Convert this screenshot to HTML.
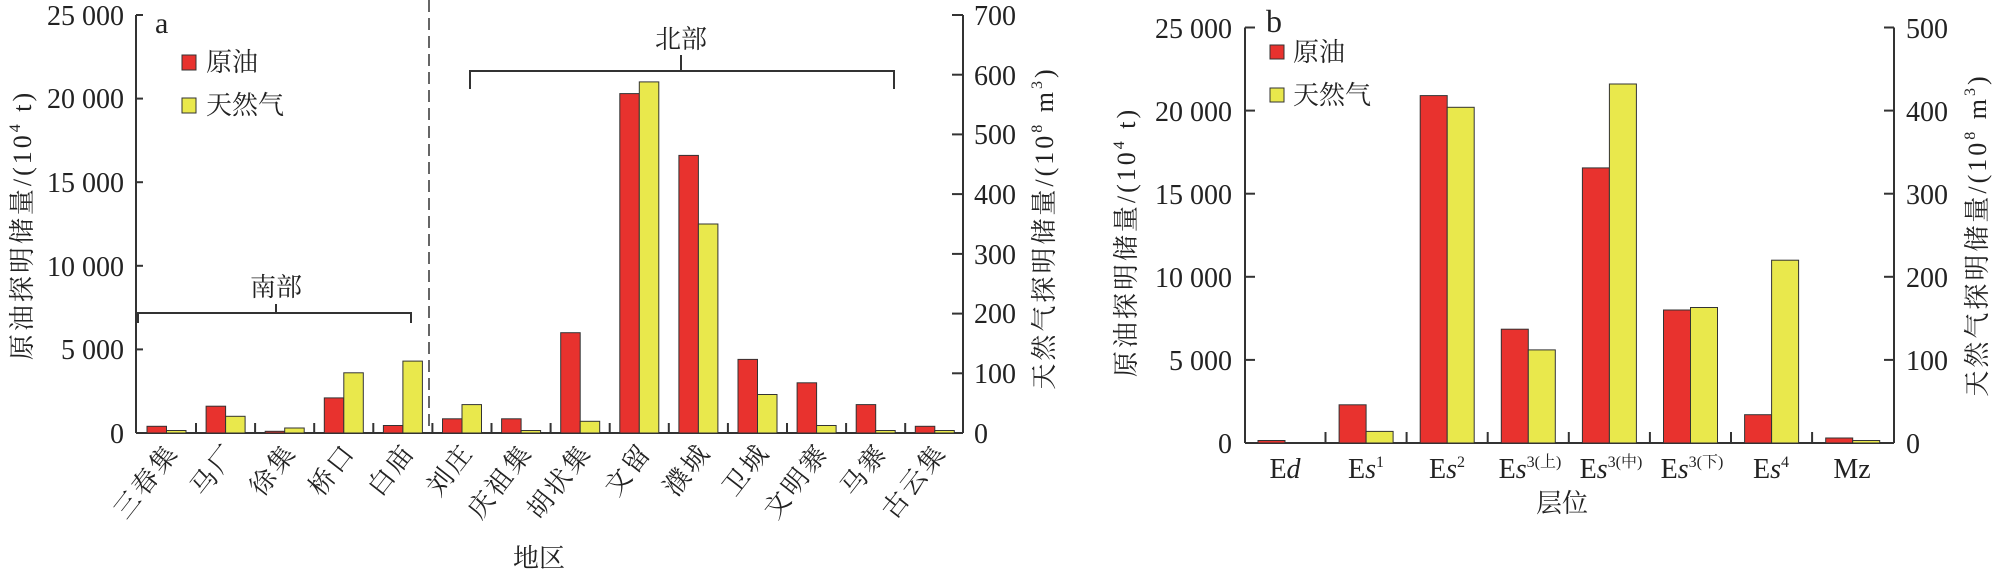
<!DOCTYPE html>
<html><head><meta charset="utf-8"><style>
html,body{margin:0;padding:0;background:#fff;}
svg{display:block;}
text{font-family:"Liberation Serif","Noto Serif CJK SC","Noto Sans CJK SC",serif;fill:#222;}
.r{fill:#e8322e;stroke:#333;stroke-width:1;}
.g{fill:#e9e84c;stroke:#333;stroke-width:1;}
.ax{stroke:#333;stroke-width:2;fill:none;}
.t{font-size:28px;}
.c{font-size:26px;letter-spacing:3px;}
.yl{font-size:26px;letter-spacing:3px;}
</style></head><body>
<svg width="1999" height="575" xmlns="http://www.w3.org/2000/svg">
<!-- Chart a -->
<g>
<line class="ax" x1="136" y1="15" x2="136" y2="433"/>
<line class="ax" x1="136" y1="433" x2="963" y2="433"/>
<line class="ax" x1="963" y1="15" x2="963" y2="433"/>
<g stroke="#333" stroke-width="2">
<line x1="136" y1="15" x2="143" y2="15"/><line x1="136" y1="98.6" x2="143" y2="98.6"/><line x1="136" y1="182.2" x2="143" y2="182.2"/><line x1="136" y1="265.8" x2="143" y2="265.8"/><line x1="136" y1="349.4" x2="143" y2="349.4"/>
<line x1="952" y1="15" x2="963" y2="15"/><line x1="952" y1="74.7" x2="963" y2="74.7"/><line x1="952" y1="134.4" x2="963" y2="134.4"/><line x1="952" y1="194.1" x2="963" y2="194.1"/><line x1="952" y1="253.9" x2="963" y2="253.9"/><line x1="952" y1="313.6" x2="963" y2="313.6"/><line x1="952" y1="373.3" x2="963" y2="373.3"/>
<line x1="196" y1="423" x2="196" y2="433"/><line x1="255.1" y1="423" x2="255.1" y2="433"/><line x1="314.2" y1="423" x2="314.2" y2="433"/><line x1="373.3" y1="423" x2="373.3" y2="433"/><line x1="432.4" y1="423" x2="432.4" y2="433"/><line x1="491.5" y1="423" x2="491.5" y2="433"/><line x1="550.6" y1="423" x2="550.6" y2="433"/><line x1="609.7" y1="423" x2="609.7" y2="433"/><line x1="668.8" y1="423" x2="668.8" y2="433"/><line x1="727.9" y1="423" x2="727.9" y2="433"/><line x1="787" y1="423" x2="787" y2="433"/><line x1="846.1" y1="423" x2="846.1" y2="433"/><line x1="905.2" y1="423" x2="905.2" y2="433"/>
</g>
<g class="t" text-anchor="end">
<text x="124" y="25">25 000</text><text x="124" y="108">20 000</text><text x="124" y="192">15 000</text><text x="124" y="276">10 000</text><text x="124" y="359">5 000</text><text x="124" y="443">0</text>
</g>
<g class="t" text-anchor="start">
<text x="974" y="25">700</text><text x="974" y="85">600</text><text x="974" y="144">500</text><text x="974" y="204">400</text><text x="974" y="264">300</text><text x="974" y="323">200</text><text x="974" y="383">100</text><text x="974" y="443">0</text>
</g>
<text class="yl" x="25" y="225" text-anchor="middle" transform="rotate(-90 25 225)" dominant-baseline="middle">原油探明储量/(10<tspan font-size="16" dy="-9">4</tspan><tspan dy="9"> t)</tspan></text>
<text class="yl" x="1047" y="228" text-anchor="middle" transform="rotate(-90 1047 228)" dominant-baseline="middle">天然气探明储量/(10<tspan font-size="16" dy="-9">8</tspan><tspan dy="9"> m</tspan><tspan font-size="16" dy="-9">3</tspan><tspan dy="9">)</tspan></text>
<line x1="429" y1="0" x2="429" y2="433" stroke="#333" stroke-width="1.5" stroke-dasharray="12,6"/>
<path d="M138 323 L138 313 L276 313 L276 304 M276 313 L411 313 L411 323" fill="none" stroke="#333" stroke-width="2"/>
<text x="276" y="296" font-size="26" text-anchor="middle">南部</text>
<path d="M470 89 L470 71 L681 71 L681 55 M681 71 L894 71 L894 89" fill="none" stroke="#333" stroke-width="2"/>
<text x="681" y="48" font-size="26" text-anchor="middle">北部</text>
<text x="155" y="33" font-size="30">a</text>
<rect class="r" x="182" y="55" width="14" height="15"/><text x="206" y="71" font-size="26">原油</text>
<rect class="g" x="182" y="98" width="14" height="15"/><text x="206" y="114" font-size="26">天然气</text>
<!-- bars -->
<rect class="r" x="147" y="426.3" width="19.5" height="6.7"/><rect class="g" x="166.5" y="430.5" width="19.5" height="2.5"/>
<rect class="r" x="206.1" y="406.2" width="19.5" height="26.8"/><rect class="g" x="225.6" y="416.3" width="19.5" height="16.7"/>
<rect class="r" x="265.2" y="431.3" width="19.5" height="1.7"/><rect class="g" x="284.7" y="428" width="19.5" height="5"/>
<rect class="r" x="324.3" y="397.9" width="19.5" height="35.1"/><rect class="g" x="343.8" y="372.8" width="19.5" height="60.2"/>
<rect class="r" x="383.4" y="425.5" width="19.5" height="7.5"/><rect class="g" x="402.9" y="361.1" width="19.5" height="71.9"/>
<rect class="r" x="442.5" y="418.8" width="19.5" height="14.2"/><rect class="g" x="462" y="404.6" width="19.5" height="28.4"/>
<rect class="r" x="501.6" y="418.8" width="19.5" height="14.2"/><rect class="g" x="521.1" y="430.5" width="19.5" height="2.5"/>
<rect class="r" x="560.7" y="332.7" width="19.5" height="100.3"/><rect class="g" x="580.2" y="421.3" width="19.5" height="11.7"/>
<rect class="r" x="619.8" y="93.6" width="19.5" height="339.4"/><rect class="g" x="639.3" y="81.9" width="19.5" height="351.1"/>
<rect class="r" x="678.9" y="155.4" width="19.5" height="277.6"/><rect class="g" x="698.4" y="224" width="19.5" height="209"/>
<rect class="r" x="738" y="359.4" width="19.5" height="73.6"/><rect class="g" x="757.5" y="394.5" width="19.5" height="38.5"/>
<rect class="r" x="797.1" y="382.8" width="19.5" height="50.2"/><rect class="g" x="816.6" y="425.5" width="19.5" height="7.5"/>
<rect class="r" x="856.2" y="404.6" width="19.5" height="28.4"/><rect class="g" x="875.7" y="430.5" width="19.5" height="2.5"/>
<rect class="r" x="915.3" y="426.3" width="19.5" height="6.7"/><rect class="g" x="934.8" y="430.5" width="19.5" height="2.5"/>
<!-- x labels -->
<g class="c" text-anchor="end">
<text transform="translate(180,452) rotate(-52)">三春集</text>
<text transform="translate(239,452) rotate(-52)">马厂</text>
<text transform="translate(298,452) rotate(-52)">徐集</text>
<text transform="translate(357,452) rotate(-52)">桥口</text>
<text transform="translate(416,452) rotate(-52)">白庙</text>
<text transform="translate(475,452) rotate(-52)">刘庄</text>
<text transform="translate(534,452) rotate(-52)">庆祖集</text>
<text transform="translate(593,452) rotate(-52)">胡状集</text>
<text transform="translate(653,452) rotate(-52)">文留</text>
<text transform="translate(712,452) rotate(-52)">濮城</text>
<text transform="translate(771,452) rotate(-52)">卫城</text>
<text transform="translate(830,452) rotate(-52)">文明寨</text>
<text transform="translate(889,452) rotate(-52)">马寨</text>
<text transform="translate(948,452) rotate(-52)">古云集</text>
</g>
<text x="539" y="567" font-size="26" text-anchor="middle">地区</text>
</g>
<!-- Chart b -->
<g>
<line class="ax" x1="1245" y1="27.5" x2="1245" y2="443"/>
<line class="ax" x1="1245" y1="443" x2="1894" y2="443"/>
<line class="ax" x1="1894" y1="27.5" x2="1894" y2="443"/>
<g stroke="#333" stroke-width="2">
<line x1="1245" y1="27.5" x2="1255" y2="27.5"/><line x1="1245" y1="110.6" x2="1255" y2="110.6"/><line x1="1245" y1="193.7" x2="1255" y2="193.7"/><line x1="1245" y1="276.8" x2="1255" y2="276.8"/><line x1="1245" y1="359.9" x2="1255" y2="359.9"/>
<line x1="1884" y1="27.5" x2="1894" y2="27.5"/><line x1="1884" y1="110.6" x2="1894" y2="110.6"/><line x1="1884" y1="193.7" x2="1894" y2="193.7"/><line x1="1884" y1="276.8" x2="1894" y2="276.8"/><line x1="1884" y1="359.9" x2="1894" y2="359.9"/>
<line x1="1325.5" y1="432" x2="1325.5" y2="443"/><line x1="1406.6" y1="432" x2="1406.6" y2="443"/><line x1="1487.7" y1="432" x2="1487.7" y2="443"/><line x1="1568.8" y1="432" x2="1568.8" y2="443"/><line x1="1649.9" y1="432" x2="1649.9" y2="443"/><line x1="1731" y1="432" x2="1731" y2="443"/><line x1="1812.1" y1="432" x2="1812.1" y2="443"/>
</g>
<g class="t" text-anchor="end">
<text x="1232" y="38">25 000</text><text x="1232" y="121">20 000</text><text x="1232" y="204">15 000</text><text x="1232" y="287">10 000</text><text x="1232" y="370">5 000</text><text x="1232" y="453">0</text>
</g>
<g class="t" text-anchor="start">
<text x="1906" y="38">500</text><text x="1906" y="121">400</text><text x="1906" y="204">300</text><text x="1906" y="287">200</text><text x="1906" y="370">100</text><text x="1906" y="453">0</text>
</g>
<text class="yl" x="1129" y="242" text-anchor="middle" transform="rotate(-90 1129 242)" dominant-baseline="middle">原油探明储量/(10<tspan font-size="16" dy="-9">4</tspan><tspan dy="9"> t)</tspan></text>
<text class="yl" x="1980" y="235" text-anchor="middle" transform="rotate(-90 1980 235)" dominant-baseline="middle">天然气探明储量/(10<tspan font-size="16" dy="-9">8</tspan><tspan dy="9"> m</tspan><tspan font-size="16" dy="-9">3</tspan><tspan dy="9">)</tspan></text>
<text x="1266" y="32" font-size="32">b</text>
<rect class="r" x="1270" y="45" width="14" height="14"/><text x="1293" y="61" font-size="26">原油</text>
<rect class="g" x="1270" y="88" width="14" height="14"/><text x="1293" y="104" font-size="26">天然气</text>
<rect class="r" x="1258" y="440.5" width="27" height="2.5"/>
<rect class="r" x="1339.1" y="404.8" width="27" height="38.2"/><rect class="g" x="1366.1" y="431.4" width="27" height="11.6"/>
<rect class="r" x="1420.2" y="95.6" width="27" height="347.4"/><rect class="g" x="1447.2" y="107.3" width="27" height="335.7"/>
<rect class="r" x="1501.3" y="329.2" width="27" height="113.8"/><rect class="g" x="1528.3" y="349.9" width="27" height="93.1"/>
<rect class="r" x="1582.4" y="167.9" width="27" height="275.1"/><rect class="g" x="1609.4" y="84" width="27" height="359"/>
<rect class="r" x="1663.5" y="310" width="27" height="133"/><rect class="g" x="1690.5" y="307.5" width="27" height="135.5"/>
<rect class="r" x="1744.6" y="414.7" width="27" height="28.3"/><rect class="g" x="1771.6" y="260.2" width="27" height="182.8"/>
<rect class="r" x="1825.7" y="438" width="27" height="5"/><rect class="g" x="1852.7" y="440.5" width="27" height="2.5"/>
<g font-size="28" text-anchor="middle">
<text x="1285" y="478">E<tspan font-style="italic">d</tspan></text>
<text x="1366" y="478">E<tspan font-style="italic">s</tspan><tspan font-size="16" dy="-11">1</tspan></text>
<text x="1447" y="478">E<tspan font-style="italic">s</tspan><tspan font-size="16" dy="-11">2</tspan></text>
<text x="1530" y="478">E<tspan font-style="italic">s</tspan><tspan font-size="16" dy="-11">3(上)</tspan></text>
<text x="1611" y="478">E<tspan font-style="italic">s</tspan><tspan font-size="16" dy="-11">3(中)</tspan></text>
<text x="1692" y="478">E<tspan font-style="italic">s</tspan><tspan font-size="16" dy="-11">3(下)</tspan></text>
<text x="1771" y="478">E<tspan font-style="italic">s</tspan><tspan font-size="16" dy="-11">4</tspan></text>
<text x="1852" y="478">Mz</text>
</g>
<text x="1562" y="512" font-size="26" text-anchor="middle">层位</text>
</g>
</svg>
</body></html>
